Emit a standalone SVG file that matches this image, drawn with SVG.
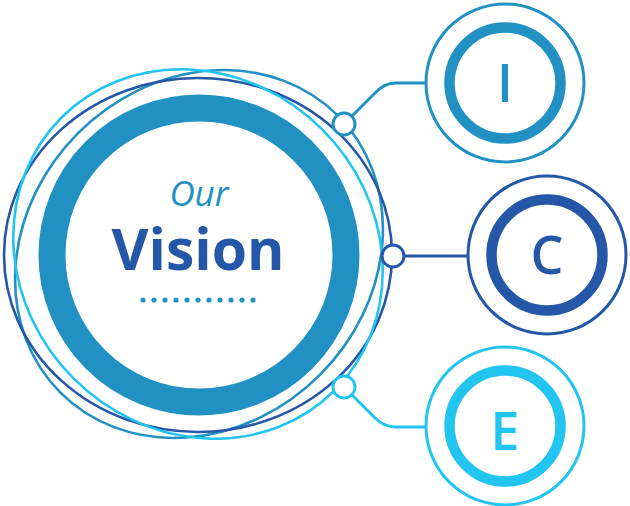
<svg xmlns="http://www.w3.org/2000/svg" width="630" height="506" viewBox="0 0 630 506">
<style>
.thin{fill:none;stroke-width:2.6}
.mb{stroke:#2191c4}
.db{stroke:#2457a7}
.cy{stroke:#22c4f0}
.node{fill:#fff;stroke-width:3}
.ring{fill:none;stroke-width:10.5}
.outer{fill:#fff;stroke-width:3}
.letter{font-family:"Open Sans","Liberation Sans",sans-serif;font-weight:600;font-size:52px;text-anchor:middle}
.conn{fill:none;stroke-width:3;stroke-linecap:round;stroke-linejoin:round}
</style>
<rect width="630" height="506" fill="#fff"/>
<g id="main">
  <ellipse class="thin mb" cx="199" cy="254" rx="196" ry="171" transform="rotate(-45 199 254)"/>
  <ellipse class="thin db" cx="198" cy="255" rx="194" ry="177"/>
  <ellipse class="thin cy" cx="198" cy="254" rx="193" ry="176" transform="rotate(45 198 254)"/>
  <circle cx="199" cy="255" r="147" fill="#fff" stroke="#2191c4" stroke-width="27"/>
  <text x="199" y="206" font-family="'Open Sans','Liberation Sans',sans-serif" font-style="italic" font-weight="400" font-size="35" fill="#2191c4" text-anchor="middle">Our</text>
  <text x="198" y="270" font-family="'Open Sans','Liberation Sans',sans-serif" font-weight="700" font-size="57" fill="#2457a7" text-anchor="middle">Vision</text>
  <g fill="#2191c4">
    <circle cx="143" cy="300" r="2.6"/><circle cx="154" cy="300" r="2.6"/><circle cx="165" cy="300" r="2.6"/><circle cx="176" cy="300" r="2.6"/><circle cx="187" cy="300" r="2.6"/><circle cx="198" cy="300" r="2.6"/><circle cx="209" cy="300" r="2.6"/><circle cx="220" cy="300" r="2.6"/><circle cx="231" cy="300" r="2.6"/><circle cx="242" cy="300" r="2.6"/><circle cx="253" cy="300" r="2.6"/>
  </g>
</g>
<g id="connectors">
  <path class="conn mb" d="M352,116 L375,93 Q384,83 396,83 L426,83"/>
  <path class="conn db" d="M404,256 L467,256"/>
  <path class="conn cy" d="M352,395 L375,418 Q384,427 396,427 L426,427"/>
  <circle class="node mb" cx="344" cy="124" r="11"/>
  <circle class="node db" cx="393" cy="256" r="11"/>
  <circle class="node cy" cx="344" cy="387" r="11"/>
</g>
<g id="node-I">
  <circle class="outer mb" cx="505" cy="83" r="79"/>
  <circle class="ring mb" cx="505" cy="83" r="55.5"/>
  <text class="letter" x="505" y="102" fill="#2191c4">I</text>
</g>
<g id="node-C">
  <circle class="outer db" cx="547" cy="255" r="79"/>
  <circle class="ring db" cx="547" cy="255" r="55.5"/>
  <text class="letter" x="547" y="274" fill="#2457a7">C</text>
</g>
<g id="node-E">
  <circle class="outer cy" cx="505" cy="426" r="79"/>
  <circle class="ring cy" cx="505" cy="426" r="55.5"/>
  <text class="letter" x="505" y="450" fill="#22c4f0">E</text>
</g>
</svg>
